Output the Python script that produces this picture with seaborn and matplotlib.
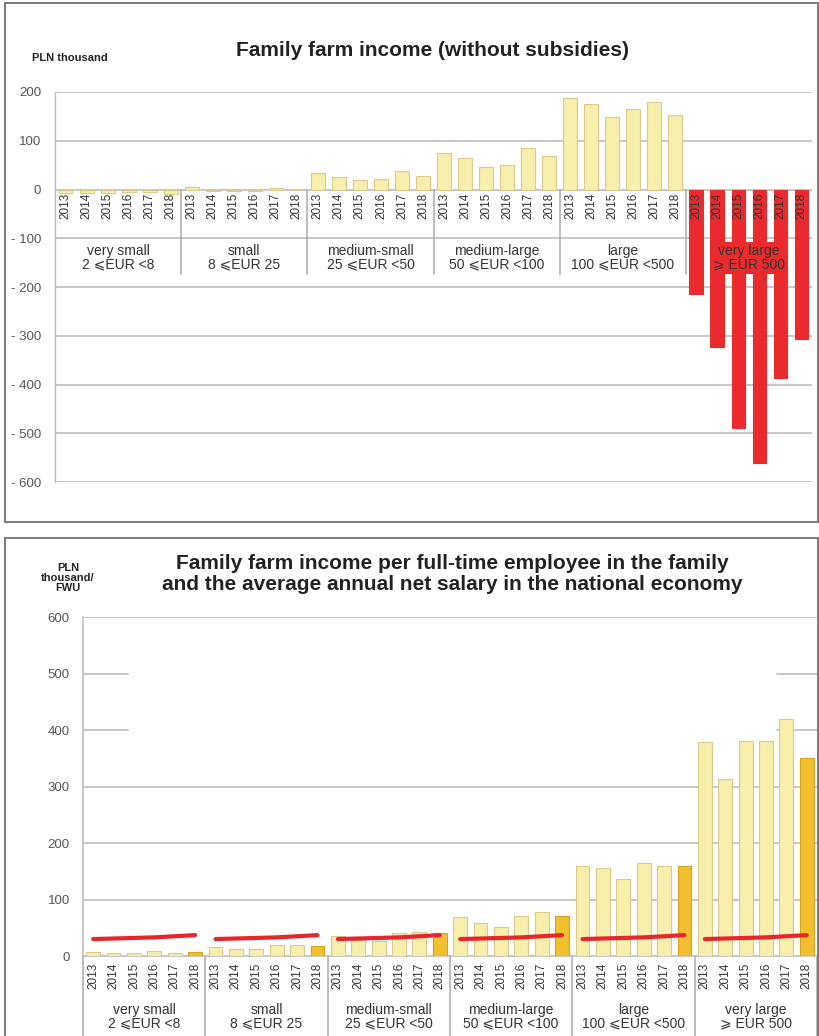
import numpy as np
import pandas as pd
import matplotlib
matplotlib.use("Agg")
import matplotlib.pyplot as plt
from matplotlib.patches import Rectangle
from matplotlib.ticker import FixedLocator, FixedFormatter
import seaborn as sns

sns.set_theme(style="white")
plt.rcParams["font.family"] = ["Liberation Sans", "DejaVu Sans"]

# ---------------------------------------------------------------- data
years = ["2013", "2014", "2015", "2016", "2017", "2018"]
group_names = ["very small", "small", "medium-small", "medium-large", "large", "very large"]
group_ranges = ["2 ⩽EUR <8", "8 ⩽EUR 25", "25 ⩽EUR <50", "50 ⩽EUR <100",
                "100 ⩽EUR <500", "⩾ EUR 500"]

# Family farm income without subsidies, PLN thousand
income_very_small = [-8, -7, -7, -6, -6, -9]
income_small = [5, -3, -3, -3, 4, -1]
income_medium_small = [33, 25, 19, 21, 37, 27]
income_medium_large = [74, 64, 46, 51, 86, 68]
income_large = [188, 175, 148, 165, 180, 153]
income_very_large = [-215, -322, -490, -561, -386, -307]

# Family farm income per FWU, PLN thousand
fwu_very_small = [7, 5, 5, 9, 6, 7]
fwu_small = [16, 13, 13, 19, 19, 17]
fwu_medium_small = [35, 29, 27, 41, 42, 40]
fwu_medium_large = [69, 58, 51, 70, 78, 70]
fwu_large = [160, 155, 136, 165, 160, 159]
fwu_very_large = [379, 314, 380, 380, 420, 351]

# Average annual net salary in the national economy, PLN thousand
net_salary = [30, 31, 32, 33, 35, 37]

top_ticks = [200, 100, 0, -100, -200, -300, -400, -500, -600]
top_tick_labels = ["200", "100", "0", "- 100", "- 200", "- 300", "- 400", "- 500", "- 600"]
bottom_ticks = [0, 100, 200, 300, 400, 500, 600]

# ---------------------------------------------------------------- frames
LIGHT = "#f8efac"
GOLD = "#f2bf2e"
RED = "#ea2a2c"
EDGE = "#d9c98a"
GRID = "#bdbdbd"
TEXT = "#333333"

income_groups = [income_very_small, income_small, income_medium_small,
                 income_medium_large, income_large, income_very_large]
fwu_groups = [fwu_very_small, fwu_small, fwu_medium_small,
              fwu_medium_large, fwu_large, fwu_very_large]

rows = []
for g, (name, inc, fwu) in enumerate(zip(group_names, income_groups, fwu_groups)):
    for y, year in enumerate(years):
        rows.append({"key": f"{name} {year}", "group": name, "year": year,
                     "income": inc[y], "fwu": fwu[y], "salary": net_salary[y],
                     "pos": g * len(years) + y})
df = pd.DataFrame(rows)
n = len(df)
per = len(years)

fig = plt.figure(figsize=(8.2, 10.36), dpi=100)

# panel borders
for (y0, h) in [(0.4961, 0.5010), (-0.02, 0.5007)]:
    fig.patches.append(Rectangle((0.0061, y0), 0.9915, h, transform=fig.transFigure,
                                 fill=False, edgecolor="#7a7a7a", linewidth=1.4))

# ================================================================ top chart
ax1 = fig.add_axes([0.0671, 0.5347, 0.9232, 0.3765])
top_colors = [RED if g == group_names[-1] else LIGHT for g in df["group"]]
top_edges = [RED if g == group_names[-1] else EDGE for g in df["group"]]
sns.barplot(data=df, x="key", y="income", hue="key", palette=top_colors,
            legend=False, width=0.66, ax=ax1, zorder=3, saturation=1)
for patch, ec in zip(ax1.patches, top_edges):
    patch.set_edgecolor(ec)
    patch.set_linewidth(0.8)

ax1.set_xlim(-0.5, n - 0.5)
ax1.set_ylim(-600, 200)
ax1.yaxis.set_major_locator(FixedLocator(top_ticks))
ax1.yaxis.set_major_formatter(FixedFormatter(top_tick_labels))
ax1.tick_params(axis="y", length=0, pad=10, labelsize=9.5, labelcolor="#555555")
ax1.set_xticks([])
ax1.set_xlabel("")
ax1.set_ylabel("")
for t in top_ticks:
    ax1.axhline(t, color=GRID, lw=1.2, zorder=1)
for s in ["top", "right", "bottom"]:
    ax1.spines[s].set_visible(False)
ax1.spines["left"].set_color(GRID)
ax1.spines["left"].set_linewidth(1.0)

for i, year in enumerate(df["year"]):
    ax1.text(i, -6, year, rotation=90, ha="center", va="top", fontsize=8.5,
             color=TEXT, zorder=5)
for g in range(1, len(group_names)):
    ax1.plot([g * per - 0.5] * 2, [0, -173], color="#b0b0b0", lw=1.2, zorder=2)
for g, (name, rng) in enumerate(zip(group_names, group_ranges)):
    cx = g * per + (per - 1) / 2
    kw = {}
    if g == len(group_names) - 1:
        kw["bbox"] = dict(boxstyle="square,pad=0.15", facecolor=RED, edgecolor="none")
    ax1.text(cx, -140, f"{name}\n{rng}", ha="center", va="center", fontsize=10,
             color=TEXT, linespacing=0.95, zorder=6, **kw)

fig.text(0.527, 0.9517, "Family farm income (without subsidies)", ha="center",
         va="center", fontsize=15, fontweight="bold", color="#222222")
fig.text(0.085, 0.944, "PLN thousand", ha="center", va="center", fontsize=8,
         fontweight="bold", color="#222222")

# ================================================================ bottom chart
ax2 = fig.add_axes([0.1012, 0.0772, 0.8951, 0.3272])
bottom_colors = [GOLD if y == years[-1] else LIGHT for y in df["year"]]
bottom_edges = ["#d9a21e" if y == years[-1] else EDGE for y in df["year"]]
sns.barplot(data=df, x="key", y="fwu", hue="key", palette=bottom_colors,
            legend=False, width=0.68, ax=ax2, zorder=3, saturation=1)
for patch, ec in zip(ax2.patches, bottom_edges):
    patch.set_edgecolor(ec)
    patch.set_linewidth(0.8)

sns.lineplot(data=df, x="pos", y="salary", units="group", estimator=None,
             color="#e8252a", lw=3, ax=ax2, zorder=4)

ax2.set_xlim(-0.5, n - 0.5)
ax2.set_ylim(0, 600)
ax2.set_yticks(bottom_ticks)
ax2.set_yticklabels([str(v) for v in bottom_ticks])
ax2.tick_params(axis="y", length=0, pad=9.5, labelsize=9.5, labelcolor="#555555")
ax2.set_xticks(range(n))
ax2.set_xticklabels(df["year"], rotation=90, fontsize=8.5, color=TEXT)
ax2.tick_params(axis="x", length=0, pad=5)
ax2.set_xlabel("")
ax2.set_ylabel("")
for t in [100, 200, 300, 600]:
    ax2.axhline(t, color=GRID, lw=1.2, zorder=1)
for t in [400, 500]:
    ax2.axhline(t, xmin=0, xmax=0.061, color=GRID, lw=1.2, zorder=1)
    ax2.axhline(t, xmin=0.945, xmax=1, color=GRID, lw=1.2, zorder=1)
for s in ["top", "right"]:
    ax2.spines[s].set_visible(False)
for s in ["left", "bottom"]:
    ax2.spines[s].set_color(GRID)
    ax2.spines[s].set_linewidth(1.2)

trans = ax2.get_xaxis_transform()
for g in range(0, len(group_names) + 1):
    ax2.plot([g * per - 0.5] * 2, [0, -0.3], color="#b0b0b0", lw=1.2,
             transform=trans, clip_on=False, zorder=2)
for g, (name, rng) in enumerate(zip(group_names, group_ranges)):
    cx = g * per + (per - 1) / 2
    ax2.text(cx, -0.18, f"{name}\n{rng}", ha="center", va="center", fontsize=10,
             color=TEXT, linespacing=0.95, transform=trans, clip_on=False)

fig.text(0.551, 0.446,
         "Family farm income per full-time employee in the family\n"
         "and the average annual net salary in the national economy",
         ha="center", va="center", fontsize=15, fontweight="bold",
         color="#222222", linespacing=1.15)
fig.text(0.083, 0.442, "PLN\nthousand/\nFWU", ha="center", va="center",
         fontsize=8, fontweight="bold", color="#222222", linespacing=1.0)

fig.savefig("out.png", dpi=100)
